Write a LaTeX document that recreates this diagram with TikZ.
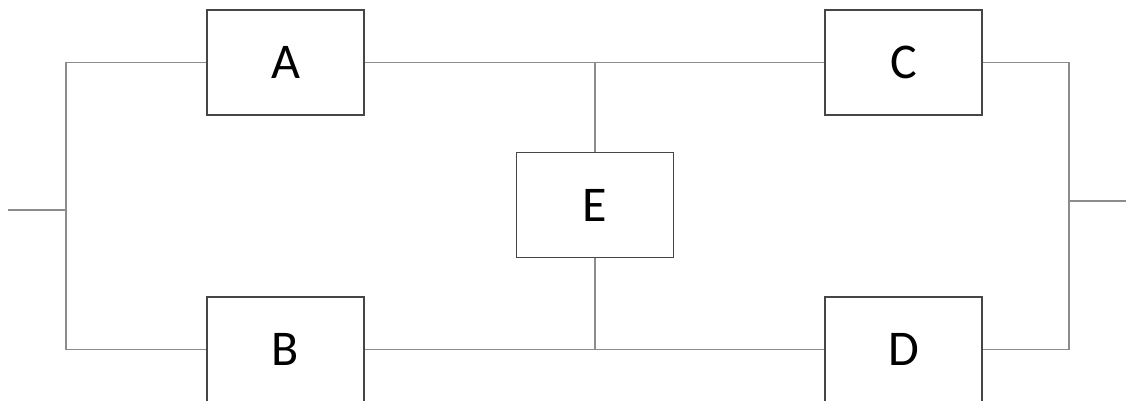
\documentclass[tikz,border=0pt]{standalone}
\usepackage{fontspec}
\setmainfont{Carlito}
\definecolor{wiregray}{RGB}{140,140,140}
\definecolor{boxgray}{RGB}{70,70,70}
\tikzset{
  block/.style={draw=boxgray, line width=1.3pt, fill=white, minimum width=157pt, minimum height=105pt, font=\fontsize{50}{60}\selectfont},
  wire/.style={draw=wiregray, line width=1.3pt}
}
\begin{document}
\begin{tikzpicture}[x=1pt,y=-1pt]
\useasboundingbox (0,0) rectangle (1126,400);
\clip (0,0) rectangle (1126,400);

\coordinate (in) at (8,210);
\coordinate (lj) at (66,210);
\coordinate (rj) at (1069,201);
\coordinate (out) at (1126,201);

\node[block] (A) at (285.5,62.5) {A};
\node[block] (B) at (285.5,349.5) {B};
\node[block] (C) at (903.5,62.5) {C};
\node[block] (D) at (903.5,349.5) {D};
\node[block] (E) at (595,205) {E};

\draw[wire] (in) -- (lj);
\draw[wire] (A.west) -| (lj) |- (B.west);
\draw[wire] (A.east) -- (C.west);
\draw[wire] (B.east) -- (D.west);
\draw[wire] (E.north) -- (E.north |- A.east);
\draw[wire] (E.south) -- (E.south |- B.east);
\draw[wire] (C.east) -| (rj) |- (D.east);
\draw[wire] (rj) -- (out);
\end{tikzpicture}
\end{document}
